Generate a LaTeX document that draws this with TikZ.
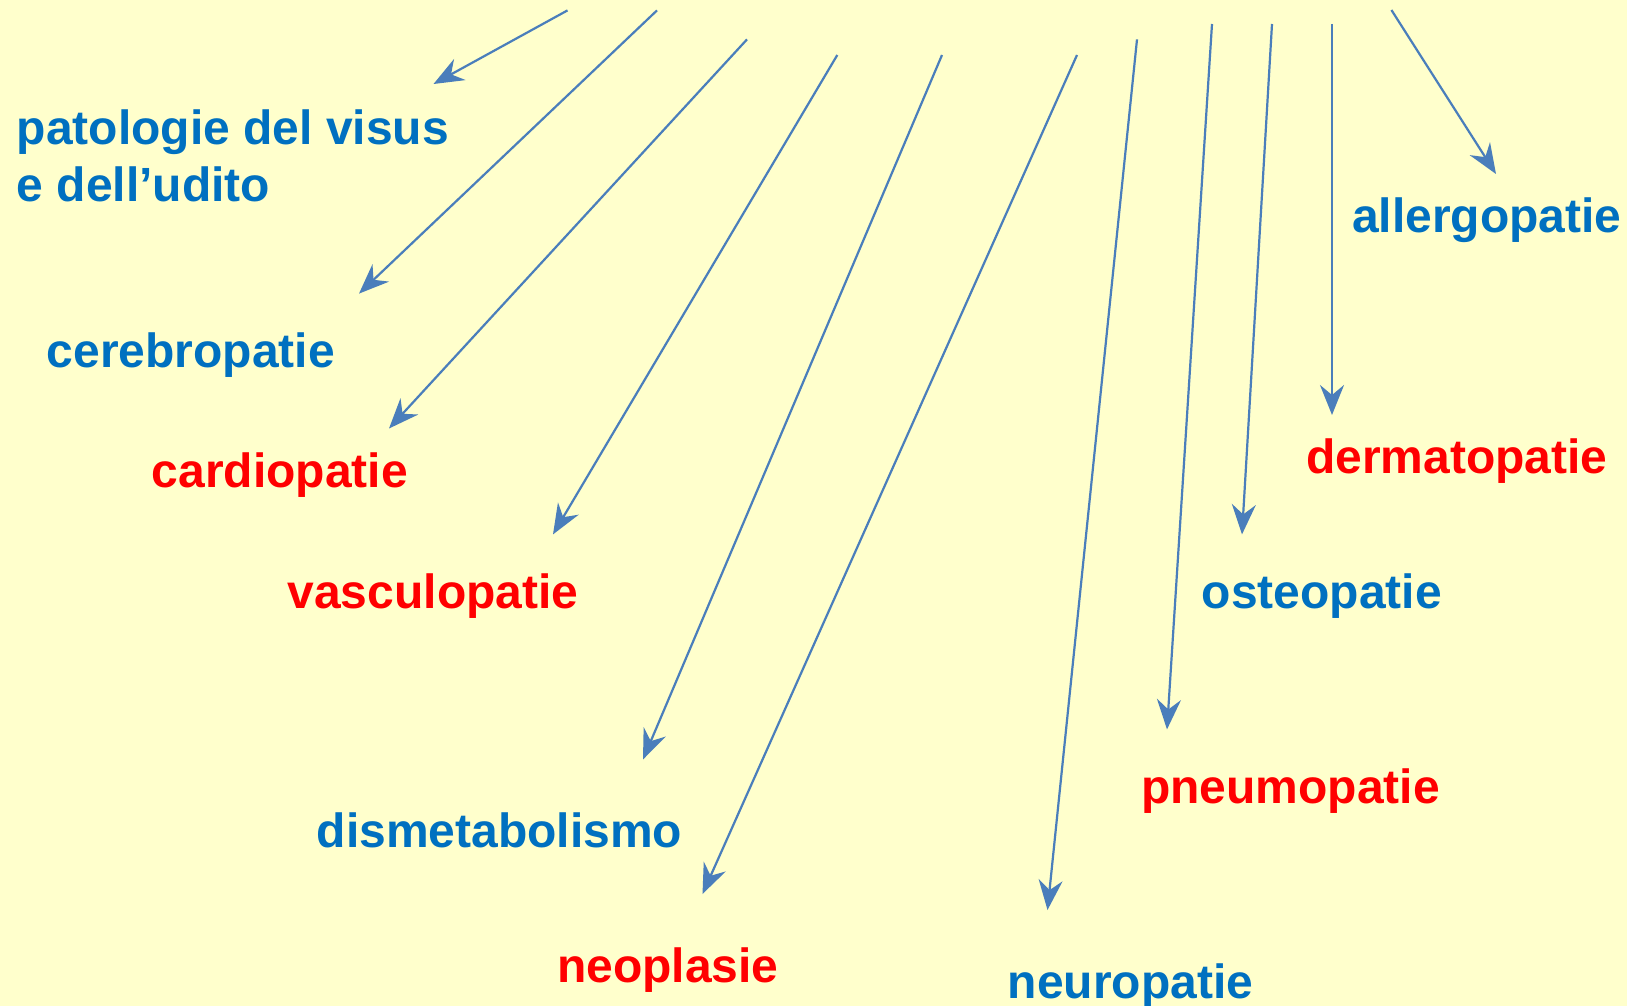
\documentclass[tikz,border=0pt]{standalone}
\usepackage{fontspec}
\setmainfont{Liberation Sans}
\usetikzlibrary{arrows.meta}
\definecolor{bgy}{HTML}{FFFFCC}
\definecolor{tblue}{HTML}{0070C0}
\definecolor{tred}{HTML}{FF0000}
\definecolor{arr}{HTML}{4A7EBB}
\begin{document}
\begin{tikzpicture}[x=1pt,y=-1pt,
  lbl/.style={anchor=base west, inner sep=0pt, font=\fontsize{48}{57}\selectfont\bfseries},
  bl/.style={lbl, text=tblue},
  rd/.style={lbl, text=tred},
  conn/.style={draw=arr, line width=2.2pt, -{Stealth[length=30pt,width=24pt,inset=10pt]}}]
\fill[bgy] (0,0) rectangle (1627,1006);
\useasboundingbox (0,0) rectangle (1627,1006);
% labels
\node[bl, align=left] (pv) at (16.6,201) {patologie del visus\\e dell’udito};
\node[bl] (cer) at (46.7,367) {cerebropatie};
\node[rd] (car) at (151.5,487.5) {cardiopatie};
\node[rd] (vas) at (287.4,608) {vasculopatie};
\node[bl] (dis) at (316.5,847.5) {dismetabolismo};
\node[rd] (neo) at (557,982) {neoplasie};
\node[bl] (neu) at (1007.5,998) {neuropatie};
\node[rd] (pne) at (1141,803) {pneumopatie};
\node[bl] (ost) at (1201.5,608) {osteopatie};
\node[rd] (der) at (1306,473) {dermatopatie};
\node[bl] (all) at (1352,232.5) {allergopatie};
% arrow start and tip points
\coordinate (s1) at (567.5,10.4);  \coordinate (t1) at (433.5,84);
\coordinate (s2) at (657,10.4);    \coordinate (t2) at (359,293.6);
\coordinate (s3) at (747,39.4);    \coordinate (t3) at (389,428.5);
\coordinate (s4) at (837.3,55);    \coordinate (t4) at (553,534.4);
\coordinate (s5) at (942,55);      \coordinate (t5) at (643,759.5);
\coordinate (s6) at (1077,55);     \coordinate (t6) at (702.5,894);
\coordinate (s7) at (1137,39.4);   \coordinate (t7) at (1047.5,910);
\coordinate (s8) at (1212,24);     \coordinate (t8) at (1167,729.4);
\coordinate (s9) at (1272,24);     \coordinate (t9) at (1242,534.4);
\coordinate (s10) at (1332,24);    \coordinate (t10) at (1332,415);
\coordinate (s11) at (1391.4,10);  \coordinate (t11) at (1496,174);
\foreach \i in {1,...,11} { \draw[conn] (s\i) -- (t\i); }
\end{tikzpicture}
\end{document}
